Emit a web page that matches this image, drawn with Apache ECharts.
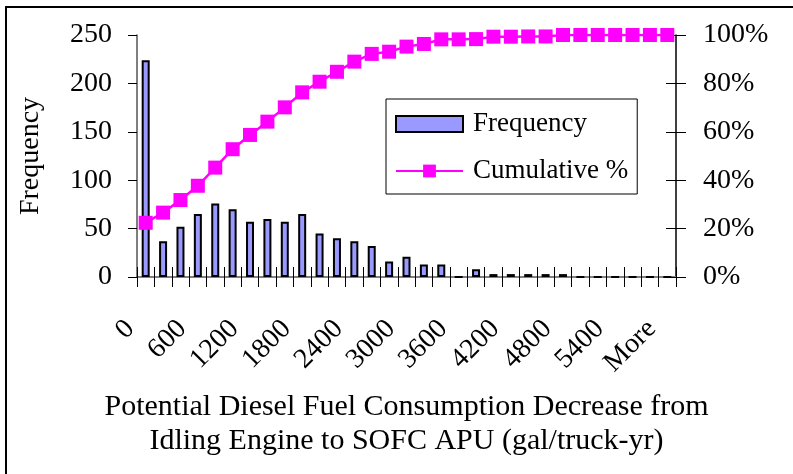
<!DOCTYPE html>
<html>
<head>
<meta charset="utf-8">
<script src="https://cdn.jsdelivr.net/npm/echarts@6/dist/echarts.min.js"></script>
<style>
  html, body { margin: 0; padding: 0; background: #fff; }
  #chart { width: 793px; height: 474px; }
</style>
</head>
<body>
<div id="chart"></div>
<script>
// bins (gal/truck-yr) and the histogram
const bins = ['0', '200', '400', '600', '800', '1000', '1200', '1400', '1600', '1800',
    '2000', '2200', '2400', '2600', '2800', '3000', '3200', '3400', '3600', '3800',
    '4000', '4200', '4400', '4600', '4800', '5000', '5200', '5400', '5600', '5800', 'More'];
const frequency = [224, 37, 52, 65, 76, 70, 57, 60, 57, 65,
    45, 40, 37, 32, 16, 21, 13, 13, 0, 8,
    3, 3, 3, 3, 3, 0, 0, 0, 0, 0, 0];
const cumulative = [22.4, 26.6, 31.8, 37.7, 45.2, 52.8, 58.7, 64.2, 70.1, 76.3,
    80.7, 84.8, 89.0, 92.2, 93.1, 95.2, 96.3, 98.2, 98.2, 98.3,
    99.3, 99.3, 99.4, 99.4, 100, 100, 100, 100, 100, 100, 100];
const freqTicks = [0, 50, 100, 150, 200, 250];
const pctTicks = [0, 20, 40, 60, 80, 100];

const FONT = 'Liberation Serif';

const chart = echarts.init(document.getElementById('chart'));

const option = {
    backgroundColor: '#fff',
    animation: false,
    grid: {
        left: 137,
        right: 117,
        top: 35,
        bottom: 197,
        outerBoundsMode: 'none'
    },
    legend: {
        orient: 'vertical',
        left: 386,
        top: 99,
        padding: [10, 9, 8, 9],
        itemWidth: 67,
        itemHeight: 16,
        itemGap: 17,
        backgroundColor: '#fff',
        borderColor: '#000',
        borderWidth: 1,
        textStyle: {
            fontFamily: FONT,
            fontSize: 27,
            lineHeight: 30,
            color: '#000',
            padding: [0, 0, 0, 5]
        },
        data: [
            { name: 'Frequency', icon: 'rect' },
            { name: 'Cumulative %' }
        ]
    },
    xAxis: [
        {
            type: 'category',
            data: bins,
            position: 'bottom',
            axisLine: { lineStyle: { color: '#000', width: 1.5 } },
            axisTick: { show: true, length: 10, interval: 0, lineStyle: { color: '#000' } },
            axisLabel: {
                interval: 2,
                rotate: 45,
                margin: 32,
                padding: [0, 22, 42, 0],
                fontFamily: FONT,
                fontSize: 28,
                color: '#000'
            },
            name: 'Potential Diesel Fuel Consumption Decrease from\nIdling Engine to SOFC APU (gal/truck-yr)',
            nameLocation: 'middle',
            nameGap: 113,
            nameTextStyle: {
                fontFamily: FONT,
                fontSize: 30,
                lineHeight: 34,
                color: '#000'
            }
        },
        {
            // inner half of the crossing ticks
            type: 'category',
            data: bins,
            position: 'bottom',
            axisLine: { show: false },
            axisTick: { show: true, inside: true, length: 10, interval: 0, lineStyle: { color: '#000' } },
            axisLabel: { show: false }
        },
        {
            // gray top edge of the plot area
            type: 'category',
            data: bins,
            position: 'top',
            axisLine: { lineStyle: { color: '#808080', width: 2 } },
            axisTick: { show: false },
            axisLabel: { show: false }
        }
    ],
    yAxis: [
        {
            type: 'value',
            position: 'left',
            min: freqTicks[0],
            max: freqTicks[freqTicks.length - 1],
            interval: 50,
            splitLine: { show: false },
            axisLine: { show: true, lineStyle: { color: '#555', width: 1.5 } },
            axisTick: { show: true, length: 9, lineStyle: { color: '#000' } },
            axisLabel: {
                margin: 25,
                fontFamily: FONT,
                fontSize: 28,
                color: '#000'
            },
            name: 'Frequency',
            nameLocation: 'middle',
            nameGap: 92,
            nameTextStyle: {
                fontFamily: FONT,
                fontSize: 28,
                color: '#000'
            }
        },
        {
            type: 'value',
            position: 'right',
            min: pctTicks[0],
            max: pctTicks[pctTicks.length - 1],
            interval: 20,
            splitLine: { show: false },
            axisLine: { show: true, lineStyle: { color: '#000', width: 1.5 } },
            axisTick: { show: true, length: 10, lineStyle: { color: '#000' } },
            axisLabel: {
                margin: 27,
                formatter: '{value}%',
                fontFamily: FONT,
                fontSize: 28,
                color: '#000'
            }
        },
        {
            type: 'value',
            position: 'right',
            min: pctTicks[0],
            max: pctTicks[pctTicks.length - 1],
            interval: 20,
            splitLine: { show: false },
            axisLine: { show: false },
            axisTick: { show: true, inside: true, length: 10, lineStyle: { color: '#000' } },
            axisLabel: { show: false }
        }
    ],
    series: [
        {
            name: 'Frequency',
            type: 'bar',
            xAxisIndex: 0,
            yAxisIndex: 0,
            barWidth: 8,
            data: frequency,
            itemStyle: {
                color: '#9999FF',
                borderColor: '#000',
                borderWidth: 2
            }
        },
        {
            name: 'Cumulative %',
            type: 'line',
            xAxisIndex: 0,
            yAxisIndex: 1,
            data: cumulative,
            symbol: 'rect',
            symbolSize: 14,
            showAllSymbol: true,
            z: 5,
            itemStyle: { color: '#FF00FF' },
            lineStyle: { color: '#FF00FF', width: 2.5 }
        }
    ],
    graphic: [
        {
            type: 'rect',
            silent: true,
            shape: { x: 6, y: 7, width: 900, height: 600 },
            style: { fill: 'none', stroke: '#000', lineWidth: 2 }
        }
    ]
};

chart.setOption(option);
</script>
</body>
</html>
